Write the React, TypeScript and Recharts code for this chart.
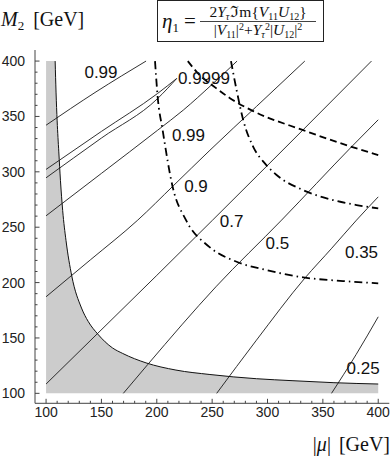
import { ComposedChart, Line, Area, Scatter, XAxis, YAxis } from "recharts";

// |mu| (x) vs M2 (y) in GeV
const BOUNDARY = [
  [108.2, 400], [109, 372], [110, 346], [111.5, 318], [113, 292], [115, 265],
  [118, 238], [123.2, 206], [132, 177], [138, 165], [146.7, 153.5], [160, 141],
  [169.2, 136], [190.3, 127.5], [217.3, 121], [248, 117], [290, 113.2], [323, 111.4],
  [360, 109.6], [400, 108.4],
];
const ETA_099_A = [[100, 342.1], [122, 357], [145.1, 372.2], [168, 386.5], [190.3, 400]];
const ETA_09999_UP = [[100, 302.2], [150, 336.5], [200.8, 370.8], [218, 384.3]];
const ETA_09999_LO = [[100, 294.6], [150, 330.5], [200.8, 366.2], [218, 384.3]];
const ETA_099_B = [[100, 260.3], [150, 298.6], [200.8, 337.6], [223.9, 355.7], [250, 379], [272.5, 400]];
const ETA_09 = [[100, 187.2], [140, 220.5], [182.8, 256.4], [215, 287.5], [248, 319.5], [290, 359], [333.7, 400]];
const ETA_07 = [[100, 108.4], [146.7, 154.2], [200, 206.5], [250.4, 256.4], [332.2, 338], [393.9, 400]];
const ETA_05 = [[169.8, 100], [191.8, 126], [253.4, 196.2], [312.7, 256.4], [375.9, 322.6], [400, 347]];
const ETA_035 = [[254.1, 100], [290, 148], [333.7, 204], [358, 231], [380.4, 256.4], [400, 277.4]];
const ETA_025 = [[357.8, 100], [380, 135], [400, 169.1]];

const DASHDOT_1 = [
  [198.4, 400], [200.8, 367.7], [205.3, 337.6], [214.3, 286.5], [226.4, 256.4], [247.4, 232.3],
  [272.1, 218.8], [299.2, 211.3], [332.2, 204.7], [368.3, 201.4], [400, 199.3],
];
const DASHDOT_2 = [
  [267, 400], [272.1, 373.7], [278.1, 346.6], [287.1, 322.6], [297.6, 307.6], [308.2, 297.1],
  [332.2, 283.5], [359.3, 274.5], [380.4, 270], [400, 267],
];
const DASHED = [
  [228, 400], [240, 386], [251, 377.5], [266.1, 366.5], [287.1, 354.8], [332.2, 337.6],
  [375.9, 322.6], [400, 315.1],
];

const LABEL_TEXT = ["0.99", "0.9999", "0.99", "0.9", "0.7", "0.5", "0.35", "0.25"];
const LABEL_AT = [
  [149.6, 390.2], [242.6, 385], [228.6, 333.1], [235.4, 287.2],
  [267.6, 255.5], [308.9, 236.1], [384.9, 227.8], [386.4, 122.6],
];

const AXIS_TICKS = [
  100, 110, 120, 130, 140, 150, 160, 170, 180, 190, 200, 210, 220, 230, 240, 250,
  260, 270, 280, 290, 300, 310, 320, 330, 340, 350, 360, 370, 380, 390, 400,
];

const toPts = (a: number[][]) => a.map(([x, y]) => ({ x, y }));

const FRAME = "#444";
const SANS = "'Liberation Sans', Arial, sans-serif";
const SERIF = "'Liberation Serif', 'Times New Roman', serif";

const isMajor = (v: number) => v % 50 === 0;

const BottomTick = (p: any) => {
  const v = p.payload.value;
  return (
    <g>
      <line x1={p.x} x2={p.x} y1={p.y} y2={p.y - (isMajor(v) ? 4.5 : 2.5)} stroke={FRAME} />
      {isMajor(v) && (
        <text x={p.x} y={p.y + 14} textAnchor="middle" fontSize={14} fontFamily={SANS} fill="#222">
          {v}
        </text>
      )}
    </g>
  );
};
const TopTick = (p: any) => (
  <line x1={p.x} x2={p.x} y1={p.y} y2={p.y + (isMajor(p.payload.value) ? 4.5 : 2.5)} stroke={FRAME} />
);
const LeftTick = (p: any) => {
  const v = p.payload.value;
  return (
    <g>
      <line x1={p.x} x2={p.x + (isMajor(v) ? 4.5 : 2.5)} y1={p.y} y2={p.y} stroke={FRAME} />
      {isMajor(v) && (
        <text x={p.x - 10} y={p.y + 5} textAnchor="end" fontSize={14} fontFamily={SANS} fill="#222">
          {v}
        </text>
      )}
    </g>
  );
};
const RightTick = (p: any) => (
  <line x1={p.x} x2={p.x - (isMajor(p.payload.value) ? 4.5 : 2.5)} y1={p.y} y2={p.y} stroke={FRAME} />
);

const solid = [ETA_099_A, ETA_09999_UP, ETA_09999_LO, ETA_099_B, ETA_09, ETA_07, ETA_05, ETA_035, ETA_025];

export default function App() {
  const labels = LABEL_TEXT.map((t, i) => ({ x: LABEL_AT[i][0], y: LABEL_AT[i][1], t }));
  const shaded = toPts([[100, 400], ...BOUNDARY]);
  return (
    <div style={{ position: "absolute", left: 0, top: 0, width: 391, height: 464, background: "#fff" }}>
      <ComposedChart width={391} height={464} margin={{ top: 50, right: 1.7, bottom: 0, left: 0 }}>
        <XAxis dataKey="x" type="number" domain={[90, 410]} allowDataOverflow ticks={AXIS_TICKS}
          interval={0} height={60.7} tickSize={0} tickMargin={0} tickLine={false}
          axisLine={{ stroke: FRAME }} tick={BottomTick} />
        <XAxis xAxisId="top" orientation="top" dataKey="x" type="number" domain={[90, 410]}
          allowDataOverflow ticks={AXIS_TICKS} interval={0} height={0} tickSize={0} tickMargin={0}
          tickLine={false} axisLine={{ stroke: FRAME }} tick={TopTick} />
        <YAxis type="number" domain={[91, 410]} allowDataOverflow ticks={AXIS_TICKS} interval={0}
          width={35} tickSize={0} tickMargin={0} tickLine={false} axisLine={{ stroke: FRAME }}
          tick={LeftTick} />
        <YAxis yAxisId="right" orientation="right" type="number" domain={[91, 410]} allowDataOverflow
          ticks={AXIS_TICKS} interval={0} width={0} tickSize={0} tickMargin={0} tickLine={false}
          axisLine={{ stroke: FRAME }} tick={RightTick} />

        <Area data={shaded} dataKey="y" type="monotone" baseValue={100} fill="#cccccc" fillOpacity={1}
          stroke="none" isAnimationActive={false} dot={false} activeDot={false} />

        {solid.map((s, i) => (
          <Line key={i} data={toPts(s)} dataKey="y" type="monotone" stroke="#1a1a1a" strokeWidth={0.9}
            dot={false} activeDot={false} isAnimationActive={false} />
        ))}
        <Line data={toPts(BOUNDARY)} dataKey="y" type="monotone" stroke="#111" strokeWidth={1}
          dot={false} activeDot={false} isAnimationActive={false} />
        <Line data={toPts(DASHED)} dataKey="y" type="monotone" stroke="#000" strokeWidth={1.8}
          strokeDasharray="7 4" dot={false} activeDot={false} isAnimationActive={false} />
        <Line data={toPts(DASHDOT_1)} dataKey="y" type="monotone" stroke="#000" strokeWidth={1.8}
          strokeDasharray="8 4 1.5 4" dot={false} activeDot={false} isAnimationActive={false} />
        <Line data={toPts(DASHDOT_2)} dataKey="y" type="monotone" stroke="#000" strokeWidth={1.8}
          strokeDasharray="8 4 1.5 4" dot={false} activeDot={false} isAnimationActive={false} />

        <Scatter data={labels} dataKey="y" isAnimationActive={false}
          shape={(p: any) => (
            <text x={p.cx} y={p.cy + 6} textAnchor="middle" fontSize={17} fontFamily={SANS} fill="#111">
              {p.payload.t}
            </text>
          )} />
      </ComposedChart>

      <svg width={391} height={464} style={{ position: "absolute", left: 0, top: 0, pointerEvents: "none" }}>
        <text x={1} y={26} fontFamily={SERIF} fontSize={20} fill="#111">
          <tspan fontStyle="italic">M</tspan>
          <tspan fontSize={13} dy={4}>2</tspan>
          <tspan dx={9} dy={-4}>[GeV]</tspan>
        </text>
        <text x={390} y={451} textAnchor="end" fontFamily={SERIF} fontSize={20} fill="#111">
          <tspan>|</tspan>
          <tspan fontStyle="italic">μ</tspan>
          <tspan>|</tspan>
          <tspan dx={8}>[GeV]</tspan>
        </text>

        <rect x={157.5} y={0.5} width={166} height={41} fill="#fff" stroke="#222" strokeWidth={1} />
        <text x={162} y={28} fontFamily={SERIF} fontSize={21} fill="#111">
          <tspan fontStyle="italic">η</tspan>
          <tspan fontSize={13} dy={4}>1</tspan>
          <tspan dx={5} dy={-4}>=</tspan>
        </text>
        <line x1={200} x2={316} y1={21.5} y2={21.5} stroke="#111" strokeWidth={0.8} />
        <text x={258} y={17} textAnchor="middle" fontFamily={SERIF} fontSize={15.5} fill="#111">
          <tspan>2</tspan>
          <tspan fontStyle="italic">Y</tspan>
          <tspan fontSize={10} fontStyle="italic" dy={3}>τ</tspan>
          <tspan dx={1} dy={-3}>ℑm{"{"}</tspan>
          <tspan fontStyle="italic">V</tspan>
          <tspan fontSize={10} dy={3}>11</tspan>
          <tspan fontStyle="italic" dy={-3}>U</tspan>
          <tspan fontSize={10} dy={3}>12</tspan>
          <tspan dy={-3}>{"}"}</tspan>
        </text>
        <text x={258} y={35} textAnchor="middle" fontFamily={SERIF} fontSize={15.5} fill="#111">
          <tspan>|</tspan>
          <tspan fontStyle="italic">V</tspan>
          <tspan fontSize={10} dy={3}>11</tspan>
          <tspan dy={-3}>|</tspan>
          <tspan fontSize={10} dy={-5}>2</tspan>
          <tspan dy={5}>+</tspan>
          <tspan fontStyle="italic">Y</tspan>
          <tspan fontSize={10} fontStyle="italic" dy={3}>τ</tspan>
          <tspan fontSize={10} dy={-8}>2</tspan>
          <tspan dy={5}>|</tspan>
          <tspan fontStyle="italic">U</tspan>
          <tspan fontSize={10} dy={3}>12</tspan>
          <tspan dy={-3}>|</tspan>
          <tspan fontSize={10} dy={-5}>2</tspan>
        </text>
      </svg>
    </div>
  );
}
